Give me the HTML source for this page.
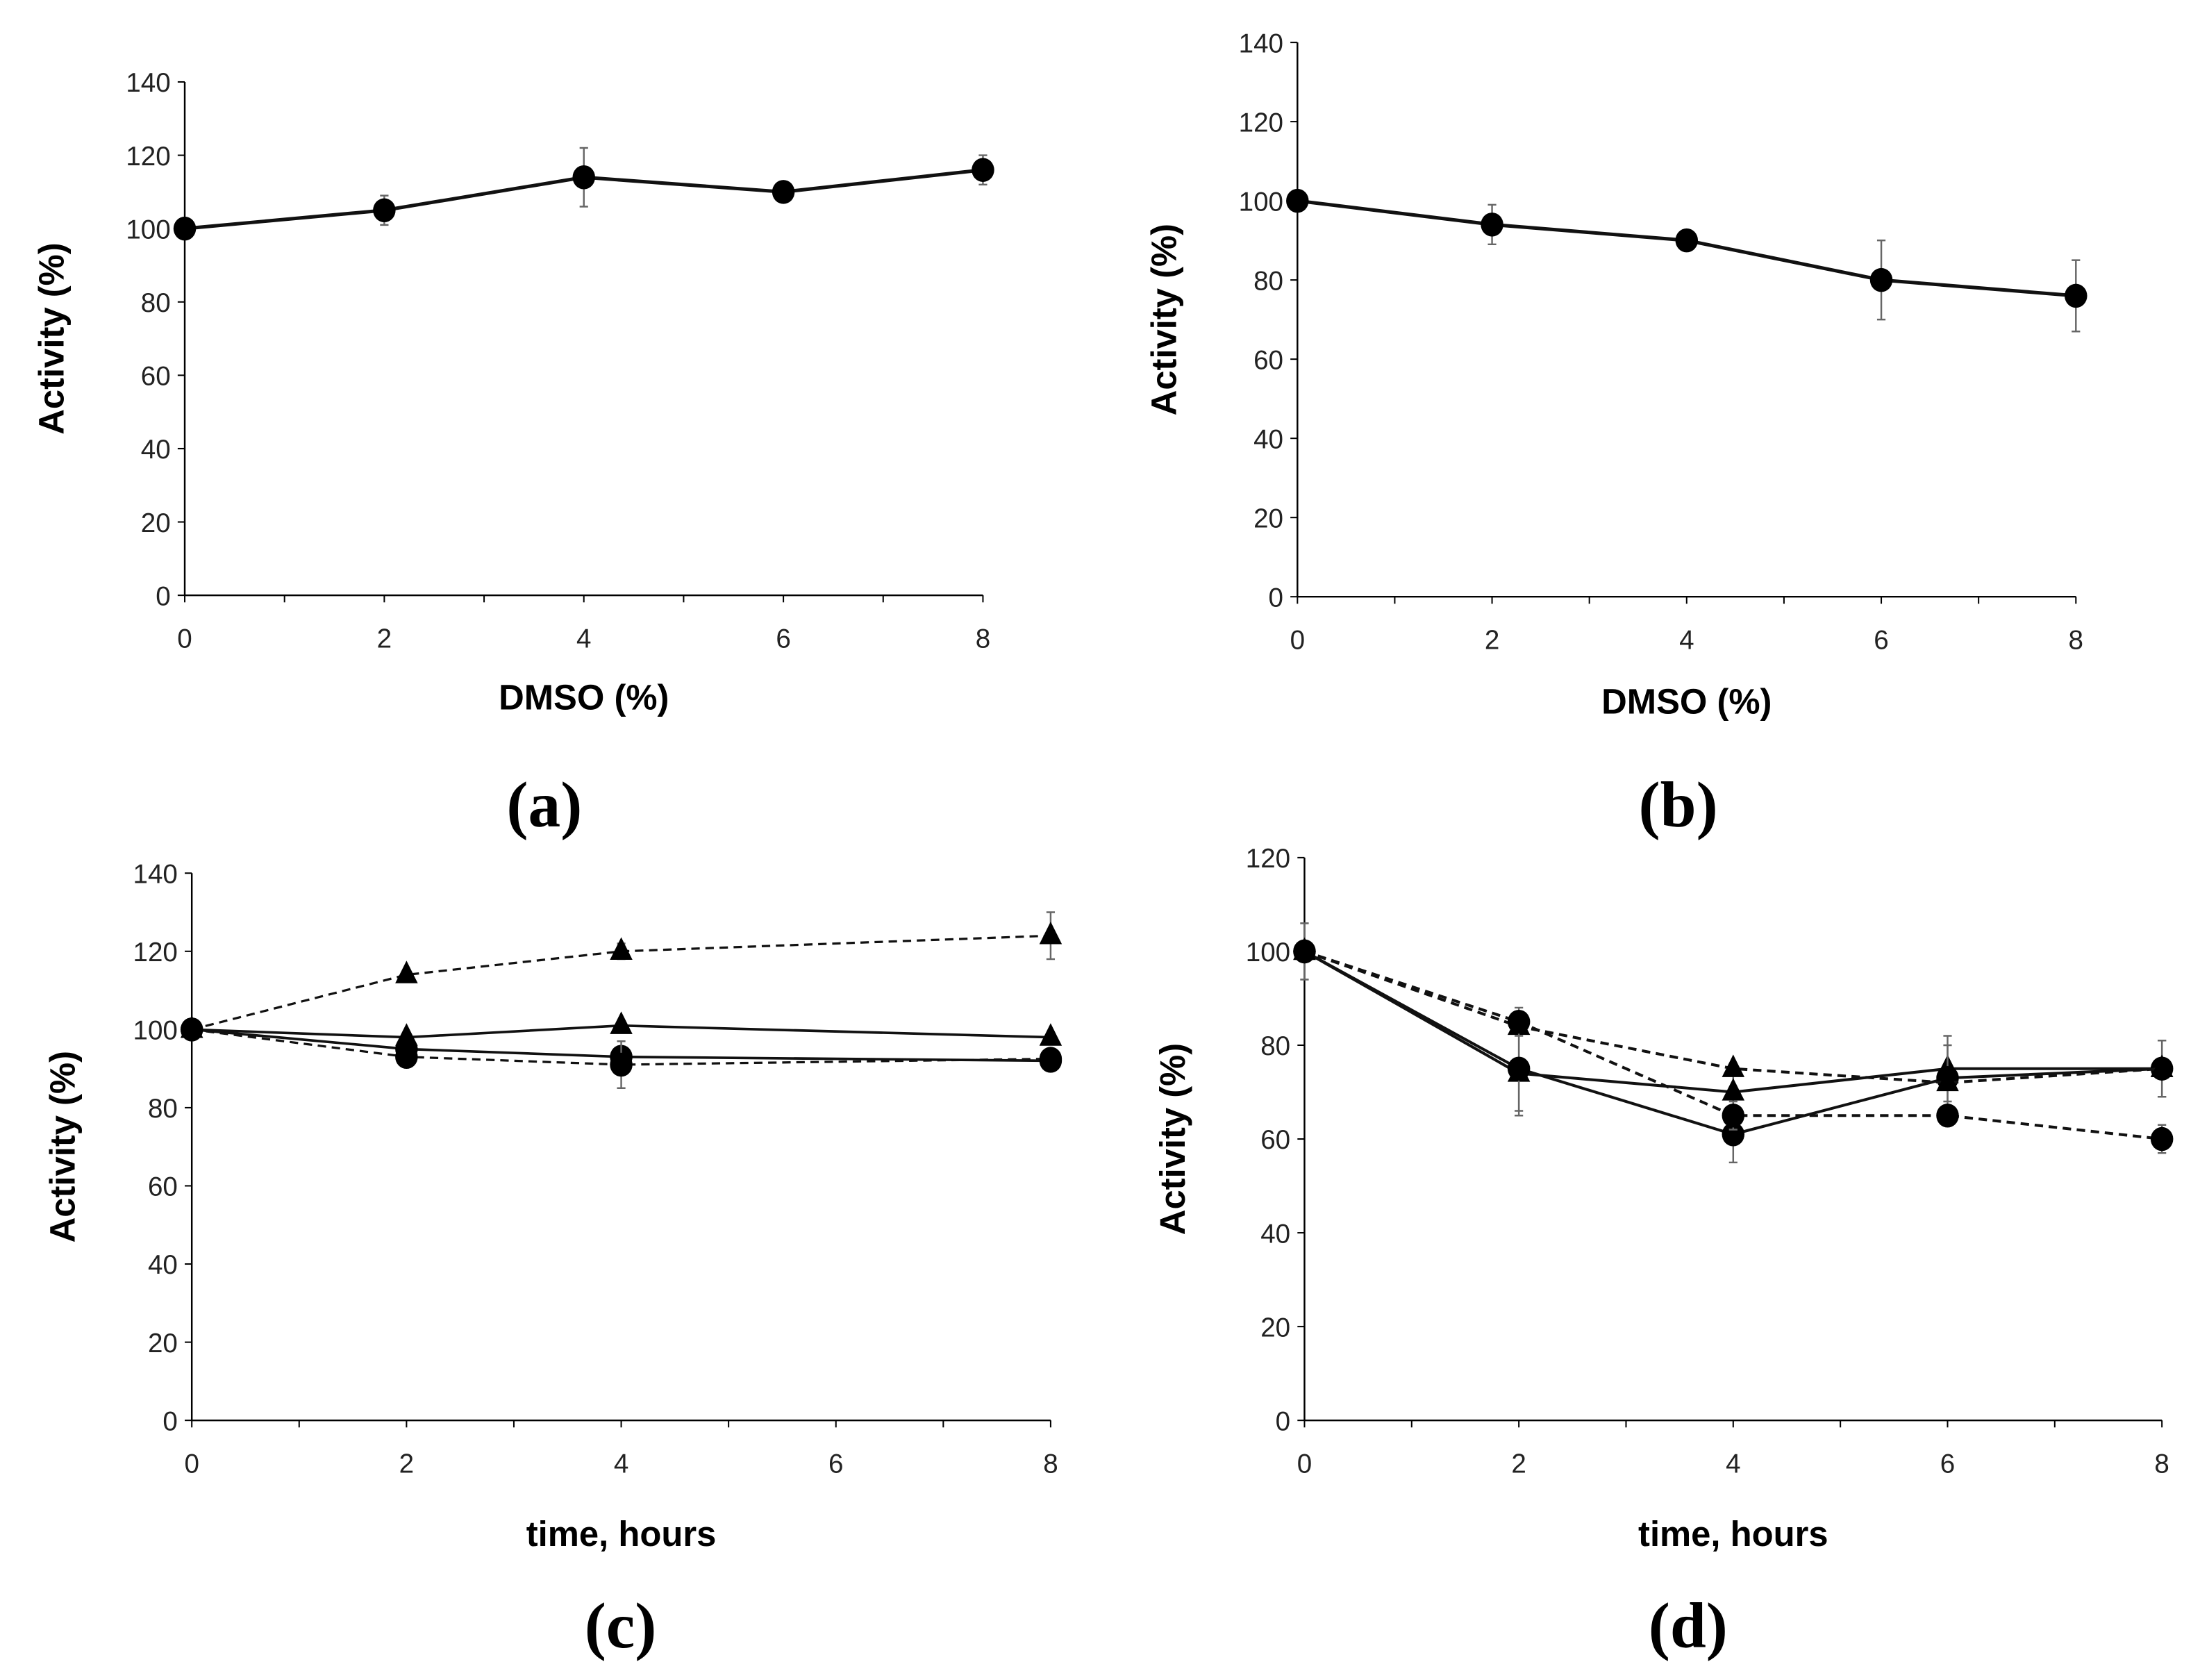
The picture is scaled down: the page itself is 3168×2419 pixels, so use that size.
<!DOCTYPE html>
<html><head><meta charset="utf-8"><style>
html,body{margin:0;padding:0;background:#fff;}
svg{display:block;}
text{font-family:"Liberation Sans",sans-serif;}
</style></head><body>
<svg id="fig" width="3168" height="2419" viewBox="0 0 1560 1191" xmlns="http://www.w3.org/2000/svg"></svg>
<script>
// ---- data ----
const xCatsAB = [0, 2, 4, 6, 8];
const aVals = [100, 105, 114, 110, 116];
const aErr = [0, 4, 8, 2, 4];
const bVals = [100, 94, 90, 80, 76];
const bErr = [0, 5, 1.5, 10, 9];
const cX = [0, 2, 4, 8];
const cTriDash = [100, 114, 120, 124];
const cTriDashErr = [0, 1, 2, 6];
const cTriSolid = [100, 98, 101, 98];
const cCirSolid = [100, 95, 93, 92];
const cCirDash = [100, 93, 91, 92.5];
const cCirDashErr = [0, 1, 6, 1];
const dX = [0, 2, 4, 6, 8];
const dTriSolid = [100, 74, 70, 75, 75];
const dCirSolid = [100, 75, 61, 73, 75];
const dTriDash = [100, 84, 75, 72, 75];
const dCirDash = [100, 85, 65, 65, 60];
const dErr = [6, 9, 6, 7, 6];
const yTicks140 = [0, 20, 40, 60, 80, 100, 120, 140];
const yTicks120 = [0, 20, 40, 60, 80, 100, 120];
const xTickLabels = [0, 2, 4, 6, 8];

const NS = "http://www.w3.org/2000/svg";
const svg = document.getElementById('fig');
function el(tag, attrs, parent) {
  const e = document.createElementNS(NS, tag);
  for (const k in attrs) e.setAttribute(k, attrs[k]);
  (parent || svg).appendChild(e);
  return e;
}

function panel(cfg) {
  const g = el('g', {});
  
  
  const sx = v => cfg.x0 + (v - 0) / 8 * (cfg.x1 - cfg.x0);
  const sy = v => cfg.y0 - v / cfg.ymax * (cfg.y0 - cfg.y1);
  const ya = el('line', {x1: cfg.x0, y1: cfg.y1, x2: cfg.x0, y2: cfg.y0, stroke: '#000', 'stroke-width': 1.2}, g);
  
  
  const xa = el('line', {x1: cfg.x0, y1: cfg.y0, x2: cfg.x1, y2: cfg.y0, stroke: '#000', 'stroke-width': 1.2}, g);
  
  
  cfg.yticks.forEach(t => {
    el('line', {x1: cfg.x0 - 5, x2: cfg.x0, y1: sy(t), y2: sy(t), stroke: '#000', 'stroke-width': 1}, g);
    const tx = el('text', {x: cfg.x0 - 10, y: sy(t) + 7, 'text-anchor': 'end', 'font-size': 19, fill: '#222'}, g);
    tx.textContent = t;
    
    
  });
  for (let i = 0; i <= 8; i++) {
    el('line', {x1: sx(i), x2: sx(i), y1: cfg.y0, y2: cfg.y0 + 5, stroke: '#000', 'stroke-width': 1}, g);
  }
  xTickLabels.forEach(t => {
    const tx = el('text', {x: sx(t), y: cfg.y0 + 37, 'text-anchor': 'middle', 'font-size': 19, fill: '#222'}, g);
    tx.textContent = t;
    
    
  });
  const yt = el('text', {x: 0, y: 0, 'text-anchor': 'middle', 'font-size': 25, 'font-weight': 'bold', transform: `translate(${cfg.ytx},${(cfg.y0 + cfg.y1) / 2}) rotate(-90)`}, g);
  yt.textContent = 'Activity (%)';
  
  
  const xt = el('text', {x: (cfg.x0 + cfg.x1) / 2, y: cfg.xty, 'text-anchor': 'middle', 'font-size': 25, 'font-weight': 'bold'}, g);
  xt.textContent = cfg.xtitle;
  
  
  const lb = el('text', {x: cfg.lx, y: cfg.ly, 'text-anchor': 'middle', 'font-size': 46, 'font-weight': 'bold', style: 'font-family:"Liberation Serif",serif'}, g);
  lb.textContent = '(' + cfg.id + ')';
  
  

  cfg.series.forEach((s, si) => {
    const sg = el('g', {}, g);
    
    
    if (s.err) s.vals.forEach((v, i) => {
      const e = s.err[i]; if (!e) return;
      const x = sx(s.xs[i]);
      el('path', {d: `M${x},${sy(v - e)}V${sy(v + e)}M${x - 3},${sy(v - e)}H${x + 3}M${x - 3},${sy(v + e)}H${x + 3}`, stroke: '#666', 'stroke-width': 1.2, fill: 'none'}, sg);
    });
    const pts = s.vals.map((v, i) => sx(s.xs[i]) + ',' + sy(v)).join(' ');
    const pl = el('polyline', {points: pts, fill: 'none', stroke: '#111', 'stroke-width': s.w || 2, 'stroke-dasharray': s.dash ? '6,4' : 'none'}, sg);
    
    
    s.vals.forEach((v, i) => {
      const x = sx(s.xs[i]), y = sy(v);
      let m;
      if (s.marker === 'tri') m = el('polygon', {points: `${x},${y - 10} ${x - 8},${y + 6} ${x + 8},${y + 6}`, fill: '#000'}, sg);
      else m = el('ellipse', {cx: x, cy: y, rx: 8, ry: 8.5, fill: '#000'}, sg);
      
      
    });
  });
}

panel({id: 'a', x0: 131, x1: 697, y0: 422, y1: 58, ymax: 140, yticks: yTicks140, ytx: 45, xtitle: 'DMSO (%)', xty: 503, lx: 386, ly: 586,
  series: [{name: 'dmso-a', xs: xCatsAB, vals: aVals, err: aErr, marker: 'cir', w: 2.5}]});
panel({id: 'b', x0: 920, x1: 1472, y0: 423, y1: 30, ymax: 140, yticks: yTicks140, ytx: 834, xtitle: 'DMSO (%)', xty: 506, lx: 1190, ly: 586,
  series: [{name: 'dmso-b', xs: xCatsAB, vals: bVals, err: bErr, marker: 'cir', w: 2.5}]});
panel({id: 'c', x0: 136, x1: 745, y0: 1007, y1: 619, ymax: 140, yticks: yTicks140, ytx: 53, xtitle: 'time, hours', xty: 1096, lx: 440, ly: 1168,
  series: [
    {name: 'triangle-dashed', xs: cX, vals: cTriDash, err: cTriDashErr, marker: 'tri', dash: true, w: 1.6},
    {name: 'triangle-solid', xs: cX, vals: cTriSolid, marker: 'tri', w: 1.8},
    {name: 'circle-solid', xs: cX, vals: cCirSolid, marker: 'cir', w: 1.8},
    {name: 'circle-dashed', xs: cX, vals: cCirDash, err: cCirDashErr, marker: 'cir', dash: true, w: 1.6}
  ]});
panel({id: 'd', x0: 925, x1: 1533, y0: 1007, y1: 608, ymax: 120, yticks: yTicks120, ytx: 840, xtitle: 'time, hours', xty: 1096, lx: 1197, ly: 1168,
  series: [
    {name: 'triangle-solid', xs: dX, vals: dTriSolid, err: dErr, marker: 'tri', w: 2},
    {name: 'circle-solid', xs: dX, vals: dCirSolid, err: dErr, marker: 'cir', w: 2},
    {name: 'triangle-dashed', xs: dX, vals: dTriDash, marker: 'tri', dash: true, w: 2},
    {name: 'circle-dashed', xs: dX, vals: dCirDash, err: [0, 3, 3, 2, 3], marker: 'cir', dash: true, w: 2}
  ]});
</script>
</body></html>
